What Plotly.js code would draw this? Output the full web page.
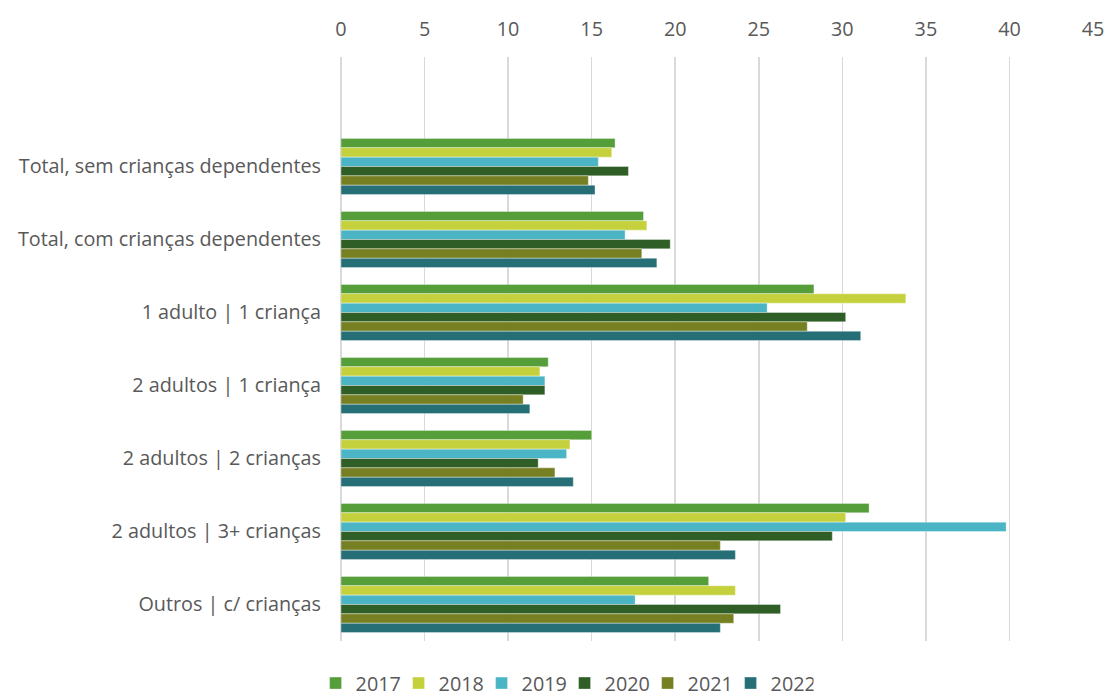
<!DOCTYPE html>
<html>
<head>
<meta charset="utf-8">
<script src="https://cdn.plot.ly/plotly-3.0.1.min.js"></script>
<style>html,body{margin:0;padding:0;background:#fff;}#chart{width:1107px;height:700px;}</style>
</head>
<body>
<div id="chart"></div>
<script>
var categories = [
  "Total, sem crianças dependentes",
  "Total, com crianças dependentes",
  "1 adulto | 1 criança",
  "2 adultos | 1 criança",
  "2 adultos | 2 crianças",
  "2 adultos | 3+ crianças",
  "Outros | c/ crianças"
];
var years = ["2017", "2018", "2019", "2020", "2021", "2022"];
var v2017 = [16.4, 18.1, 28.3, 12.4, 15.0, 31.6, 22.0];
var v2018 = [16.2, 18.3, 33.8, 11.9, 13.7, 30.2, 23.6];
var v2019 = [15.4, 17.0, 25.5, 12.2, 13.5, 39.8, 17.6];
var v2020 = [17.2, 19.7, 30.2, 12.2, 11.8, 29.4, 26.3];
var v2021 = [14.8, 18.0, 27.9, 10.9, 12.8, 22.7, 23.5];
var v2022 = [15.2, 18.9, 31.1, 11.3, 13.9, 23.6, 22.7];
var tickValues = [0, 5, 10, 15, 20, 25, 30, 35, 40, 45];

var series = [v2017, v2018, v2019, v2020, v2021, v2022];
var colors = ["#559E3A", "#C4D13D", "#4BB5C5", "#2F5F26", "#767F22", "#266F77"];

var traces = series.map(function (vals, i) {
  return {
    type: "bar",
    orientation: "h",
    name: years[i],
    x: vals,
    y: categories,
    marker: { color: colors[i], line: { color: "rgba(255,255,255,0.6)", width: 0.6 } },
    hoverinfo: "x+name"
  };
});

var font = { family: "'Open Sans', 'Noto Sans', sans-serif", size: 19.8, color: "#595959" };

var layout = {
  width: 1107,
  height: 700,
  paper_bgcolor: "#ffffff",
  plot_bgcolor: "#ffffff",
  font: font,
  barmode: "group",
  bargap: 0.23,
  bargroupgap: 0,
  margin: { l: 341, r: 14, t: 57, b: 59, pad: 0, autoexpand: false },
  xaxis: {
    side: "top",
    range: [0, 45],
    tickvals: tickValues,
    ticktext: tickValues.map(String),
    showgrid: true,
    gridcolor: "#D9D9D9",
    gridwidth: 1.5,
    zeroline: true,
    zerolinecolor: "#D9D9D9",
    zerolinewidth: 1.5,
    showline: false,
    ticks: "",
    ticklabelstandoff: 16,
    tickfont: font,
    fixedrange: true
  },
  yaxis: {
    type: "category",
    categoryorder: "array",
    categoryarray: categories,
    range: [6.5, -1.5],
    showgrid: false,
    zeroline: false,
    showline: false,
    ticks: "",
    ticklabelstandoff: 19,
    tickfont: font,
    fixedrange: true
  },
  legend: {
    orientation: "h",
    traceorder: "normal",
    xref: "container",
    yref: "container",
    x: 0.510,
    xanchor: "center",
    y: 0.024,
    yanchor: "middle",
    font: font,
    itemwidth: 30,
    entrywidth: 38,
    entrywidthmode: "pixels",
    bgcolor: "rgba(0,0,0,0)"
  },
  showlegend: true
};

Plotly.newPlot("chart", traces, layout, { displayModeBar: false, staticPlot: true });
</script>
</body>
</html>
